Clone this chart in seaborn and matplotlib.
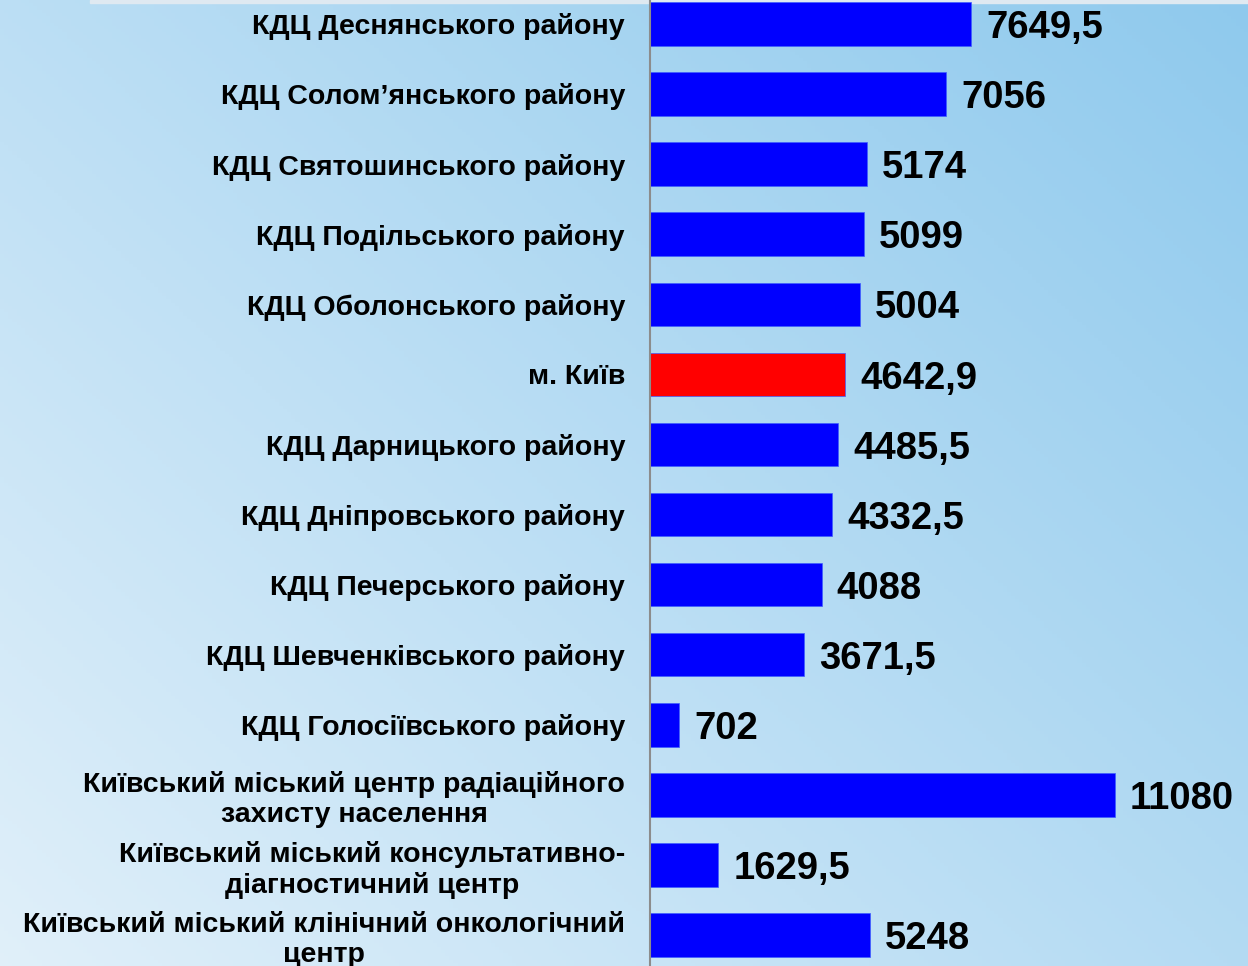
import matplotlib
matplotlib.use("Agg")

import numpy as np
import pandas as pd
import seaborn as sns
import matplotlib.pyplot as plt
from matplotlib.ticker import FixedLocator

# Data (top to bottom as in the chart)
labels = [
    "КДЦ Деснянського району",
    "КДЦ Солом’янського району",
    "КДЦ Святошинського району",
    "КДЦ Подільського району",
    "КДЦ Оболонського району",
    "м. Київ",
    "КДЦ Дарницького району",
    "КДЦ Дніпровського району",
    "КДЦ Печерського району",
    "КДЦ Шевченківського району",
    "КДЦ Голосіївського району",
    "Київський міський центр радіаційного\nзахисту населення",
    "Київський міський консультативно-\nдіагностичний центр",
    "Київський міський клінічний онкологічний\nцентр",
]
values = [7649.5, 7056, 5174, 5099, 5004, 4642.9, 4485.5, 4332.5, 4088,
          3671.5, 702, 11080, 1629.5, 5248]
highlight = "м. Київ"

colors = ["#FF0000" if l == highlight else "#0000FF" for l in labels]
df = pd.DataFrame({"label": labels, "value": values})

sns.set_style("white")
plt.rcParams['font.family'] = ['Liberation Sans', 'DejaVu Sans']
plt.rcParams['text.color'] = 'black'
plt.rcParams['ytick.color'] = 'black'
plt.rcParams['ytick.labelcolor'] = 'black'

fig = plt.figure(figsize=(12.48, 9.66), dpi=100)

# background gradient (light blue, lighter to bottom-left)
bg = fig.add_axes([0, 0, 1, 1])
gx, gy = np.meshgrid(np.linspace(0, 1, 300), np.linspace(0, 1, 300))
t = np.clip(0.55 * gx + 0.45 * (1 - gy), 0, 1)
c0 = np.array([0.88, 0.94, 0.98])
c1 = np.array([0.56, 0.79, 0.93])
img = c0[None, None, :] * (1 - t[..., None]) + c1[None, None, :] * t[..., None]
bg.imshow(img, aspect="auto", extent=[0, 1, 0, 1], origin="upper")
bg.axis("off")
bg.add_patch(plt.Rectangle((90 / 1248, 1 - 3 / 966), 1, 3 / 966,
                           color="#dfe9f1", transform=bg.transAxes))

ax = fig.add_axes([650 / 1248, 0, (1248 - 650) / 1248, 1])
ax.patch.set_alpha(0)
sns.barplot(data=df, y="label", x="value", hue="label", palette=colors,
            legend=False, orient="h", width=0.62, ax=ax, saturation=1,
            edgecolor="#3f5fff", linewidth=0.5)

ax.set_xlim(0, 14250)
ax.set_ylim(13.44, -0.34)
ax.set_xlabel("")
ax.set_ylabel("")
ax.set_xticks([])

for s in ["top", "right", "bottom"]:
    ax.spines[s].set_visible(False)
ax.spines["left"].set_color("#8c8c8c")
ax.spines["left"].set_linewidth(1.5)

ax.tick_params(axis="y", which="major", length=0, pad=18)
ax.yaxis.set_minor_locator(FixedLocator(np.arange(len(labels) - 1) + 0.5))
ax.tick_params(axis="y", which="minor", length=6, width=1.5, color="#8c8c8c",
               direction="out")
for tl in ax.get_yticklabels():
    tl.set_fontsize(20.5)
    tl.set_fontweight("bold")
    tl.set_color("black")
    tl.set_multialignment("center")
    tl.set_linespacing(1.2)

def fmt(v):
    s = ("%g" % v)
    return s.replace(".", ",")

for i, v in enumerate(values):
    ax.text(v + 360, i + 0.06, fmt(v), ha="left", va="center",
            fontsize=27.5, fontweight="bold", color="black")

fig.savefig("out.png", dpi=100)
